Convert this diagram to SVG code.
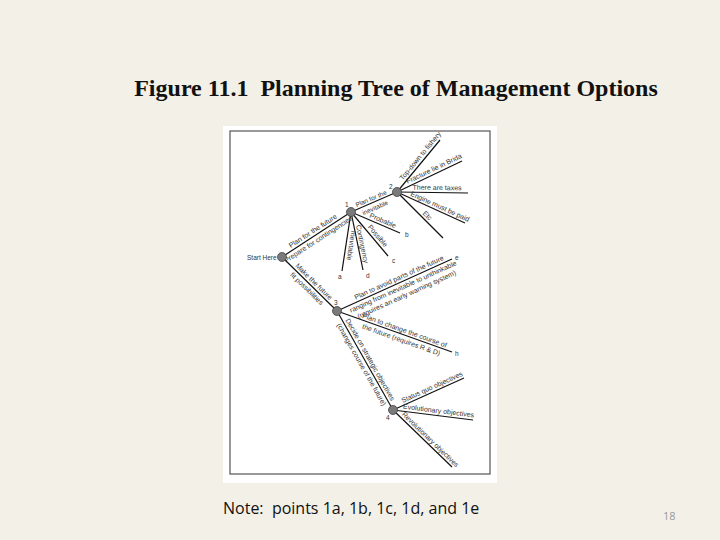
<svg xmlns="http://www.w3.org/2000/svg" width="720" height="540" viewBox="0 0 720 540">
<style>
.title{font-family:"Liberation Serif",serif;font-weight:bold;font-size:24px;fill:#111}
.note{font-family:"Open Sans","Liberation Sans",sans-serif;font-size:16px;fill:#111}
.pg{font-family:"Open Sans","Liberation Sans",sans-serif;font-size:11px;fill:#999}
.lbl{font-family:"Liberation Sans",sans-serif;font-size:7px;fill:#333;text-anchor:middle}
.sm{font-size:6.5px}
.pt{font-family:"Liberation Sans",sans-serif;font-size:6.5px;fill:#333}
.edge{stroke:#111;stroke-width:1.2;fill:none}
.node{fill:#7a7a7a;stroke:#444;stroke-width:0.8}
</style>
<rect x="0" y="0" width="720" height="540" fill="#f3f0e8"/>
<text class="title" x="396" y="96" text-anchor="middle" xml:space="preserve">Figure 11.1  Planning Tree of Management Options</text>
<rect x="223" y="126" width="274" height="357" fill="#ffffff"/>
<rect x="230" y="131" width="260" height="343" fill="none" stroke="#555" stroke-width="1.2"/>
<g id="connectors">
<line class="edge" x1="282" y1="257" x2="351" y2="212"/>
<line class="edge" x1="282" y1="257" x2="337" y2="311"/>
<line class="edge" x1="351" y1="212" x2="397" y2="192"/>
<line class="edge" x1="397" y1="192" x2="440" y2="140"/>
<line class="edge" x1="397" y1="192" x2="462" y2="161"/>
<line class="edge" x1="397" y1="192" x2="468" y2="193"/>
<line class="edge" x1="397" y1="192" x2="465" y2="223"/>
<line class="edge" x1="397" y1="192" x2="443" y2="238"/>
<line class="edge" x1="351" y1="212" x2="400" y2="233"/>
<line class="edge" x1="351" y1="212" x2="388" y2="256"/>
<line class="edge" x1="351" y1="212" x2="363" y2="270"/>
<line class="edge" x1="351" y1="212" x2="342" y2="271"/>
<line class="edge" x1="337" y1="311" x2="452" y2="259"/>
<line class="edge" x1="337" y1="311" x2="452" y2="352"/>
<line class="edge" x1="337" y1="311" x2="393" y2="410"/>
<line class="edge" x1="393" y1="410" x2="464" y2="378"/>
<line class="edge" x1="393" y1="410" x2="473" y2="420"/>
<line class="edge" x1="393" y1="410" x2="452" y2="467"/>
<g transform="translate(315.5,235) rotate(-33.1)"><text class="lbl" y="-2.5">Plan for the future</text><text class="lbl" y="7.5">Prepare for contingencies</text></g>
<g transform="translate(310.5,285) rotate(44.5)"><text class="lbl" y="-2.5">Make the future</text><text class="lbl" y="7.5">fit possibilities</text></g>
<g transform="translate(373,203) rotate(-23.5)"><text class="lbl sm" y="-2.5">Plan for the</text><text class="lbl sm" y="7.5">inevitable</text></g>
<g transform="translate(424,159) rotate(-50.4)"><text class="lbl" y="-2.5">Top-down to fishery</text></g>
<g transform="translate(436,173) rotate(-25.5)"><text class="lbl" y="-2.5">Fracture lie in Brida</text></g>
<g transform="translate(437,192.5) rotate(0.8)"><text class="lbl" y="-2.5">There are taxes</text></g>
<g transform="translate(438,211) rotate(24.5)"><text class="lbl" y="-2.5">Engine must be paid</text></g>
<g transform="translate(424,219) rotate(45)"><text class="lbl" y="-2.5">Etc</text></g>
<g transform="translate(381,225) rotate(23.2)"><text class="lbl" y="-2.5">Probable</text></g>
<g transform="translate(374,239) rotate(50)"><text class="lbl" y="-2.5">Possible</text></g>
<g transform="translate(357.5,245) rotate(78.3)"><text class="lbl" y="-2.5">Contingency</text></g>
<g transform="translate(346.5,245) rotate(98.7)"><text class="lbl" y="-2.5">Inevitable</text></g>
<g transform="translate(401,282) rotate(-24.3)"><text class="lbl" y="-2.5">Plan to avoid parts of the future</text><text class="lbl" y="7.5">ranging from inevitable to unthinkable</text><text class="lbl" y="16">(requires an early warning system)</text></g>
<g transform="translate(403,335) rotate(19.6)"><text class="lbl" y="-2.5">Plan to change the course of</text><text class="lbl" y="7.5">the future (requires R &amp; D)</text></g>
<g transform="translate(366,362) rotate(60.5)"><text class="lbl" y="-2.5">Decide on strategic objectives</text><text class="lbl" y="7.5">(changes course of the future)</text></g>
<g transform="translate(434,391.5) rotate(-24.3)"><text class="lbl" y="-2.5">Status quo objectives</text></g>
<g transform="translate(438,415.5) rotate(7.1)"><text class="lbl" y="-2.5">Evolutionary objectives</text></g>
<g transform="translate(427,443) rotate(44)"><text class="lbl" y="-2.5">Revolutionary objectives</text></g>
<text class="pt" x="405" y="237">b</text>
<text class="pt" x="392" y="263">c</text>
<text class="pt" x="366" y="278">d</text>
<text class="pt" x="338" y="279">a</text>
<text class="pt" x="455" y="260">e</text>
<text class="pt" x="455" y="356">h</text>
</g>
<g id="start"><circle class="node" cx="282" cy="257" r="4.5"/><text class="pt" x="247" y="259.5">Start Here</text></g>
<g id="n1"><circle class="node" cx="351" cy="212" r="4.5"/><text class="pt" x="345" y="207">1</text></g>
<g id="n2"><circle class="node" cx="397" cy="192" r="4.5"/><text class="pt" x="389" y="189">2</text></g>
<g id="n3"><circle class="node" cx="337" cy="311" r="4.5"/><text class="pt" x="334" y="305">3</text></g>
<g id="n4"><circle class="node" cx="393" cy="410" r="4.5"/><text class="pt" x="386" y="420">4</text></g>
<text class="note" x="223" y="514" xml:space="preserve">Note:  points 1a, 1b, 1c, 1d, and 1e</text>
<text class="pg" x="663" y="520">18</text>
</svg>
